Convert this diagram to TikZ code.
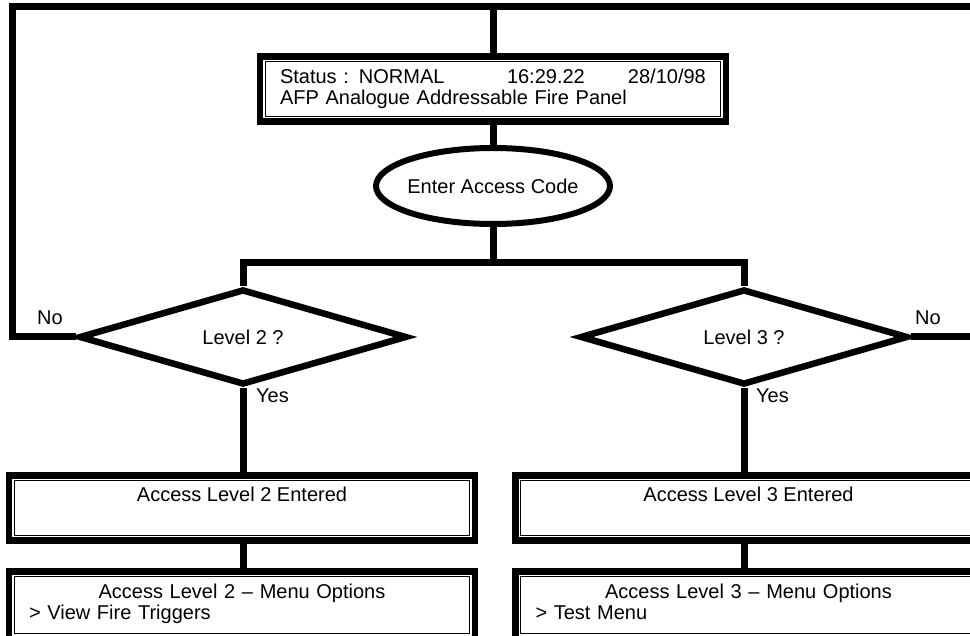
\documentclass[tikz,border=0pt]{standalone}
\usepackage{fontspec}
\setmainfont{Liberation Sans}
\usepackage{tikz}
\usetikzlibrary{shapes,arrows}

\begin{document}
\begin{tikzpicture}[x=1pt, y=-1pt, font=\fontsize{20}{21}\selectfont]

    \tikzstyle{panel}=[draw, line width=6.5pt, minimum width=466pt, minimum height=65pt, inner sep=0pt];
    \tikzstyle{entry}=[draw, shape=ellipse, line width=6pt, minimum width=234pt, minimum height=76pt, inner sep=0pt];
    \tikzstyle{choice}=[draw, shape=diamond, line width=6.5pt, minimum width=328pt, minimum height=80pt, inner sep=0pt];
    \tikzstyle{tag}=[anchor=base west, inner sep=0pt];
    \tikzstyle{link}=[line width=7pt];

    \useasboundingbox (0, 0) rectangle (970, 636);

    \node [panel, text width=426pt, align=left](status) at (493, 89){\makebox[227pt][l]{Status : NORMAL}\makebox[121pt][l]{16:29.22}28/10/98\\AFP Analogue Addressable Fire Panel};
    \node [entry, label=center:Enter Access Code](code) at (493, 186){};

    \node [choice](lv2) at (243, 337){Level 2 ?};
    \node [choice](lv3) at (744, 337){Level 3 ?};

    \node [panel, align=center](ent2) at (242, 508){Access Level 2 Entered\\\strut};
    \node [panel, align=center](ent3) at (748.5, 508){Access Level 3 Entered\\\strut};
    \node [panel, minimum height=67.5pt, text width=426pt, align=left](menu2) at (242, 605){\mbox{}\hfill Access Level 2 – Menu Options\hfill\mbox{}\\> View Fire Triggers\strut};
    \node [panel, minimum height=67.5pt, text width=426pt, align=left](menu3) at (748.5, 605){\mbox{}\hfill Access Level 3 – Menu Options\hfill\mbox{}\\> Test Menu\strut};

    \node [tag](no2) at (37, 325){No};
    \node [tag](no3) at (915, 325){No};
    \node [tag](yes2) at (256, 403){Yes};
    \node [tag](yes3) at (756, 403){Yes};

    \coordinate (ltop) at (12, 7);
    \coordinate (rtop) at (975, 7);
    \coordinate (rout) at (975, 337);
    \coordinate (split) at (493, 263);

    % inner rules of the boxes
    \foreach \b in {status, ent2, ent3, menu2, menu3}
        \draw [line width=1pt] ([shift={(8.5pt,-8.5pt)}]\b.north west) rectangle ([shift={(-8.5pt,8.5pt)}]\b.south east);

    \draw [link] (lv2.west) -| (ltop) -- (rtop);
    \draw [link] (status.north) -- (status.north |- ltop);
    \draw [link] (status.south) -- (code.north);
    \draw [link] (code.south) -- (split);
    \draw [link] (lv2.north) |- (split) -| (lv3.north);
    \draw [link] (lv3.east) -- (rout);
    \draw [link] (lv2.south) -- (lv2.south |- ent2.north);
    \draw [link] (lv3.south) -- (lv3.south |- ent3.north);
    \draw [link] (lv2.south |- ent2.south) -- (lv2.south |- menu2.north);
    \draw [link] (lv3.south |- ent3.south) -- (lv3.south |- menu3.north);

\end{tikzpicture}
\end{document}
